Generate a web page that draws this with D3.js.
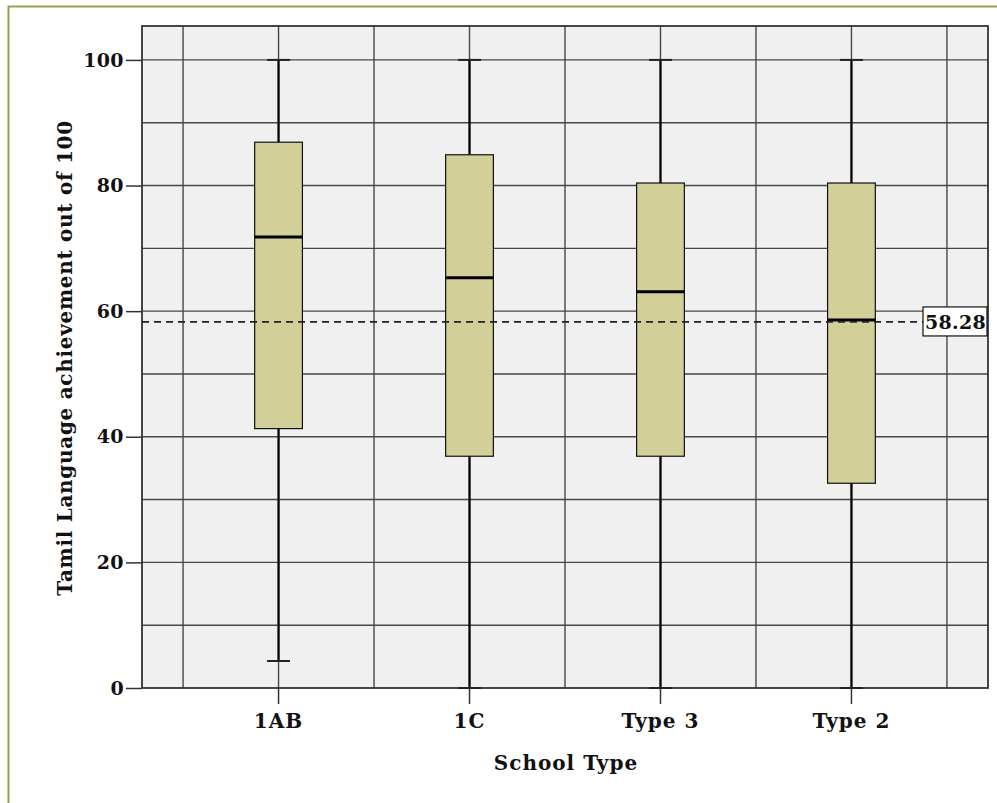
<!DOCTYPE html>
<html>
<head>
<meta charset="utf-8">
<script src="https://cdn.jsdelivr.net/npm/d3@7"></script>
<style>
  body { margin: 0; background: #fff; }
  svg { display: block; }
  text { font-family: 'DejaVu Serif', serif; font-weight: bold; fill: #111; }
</style>
</head>
<body>
<svg id="chart"></svg>
<script>
'use strict'

// data
const categories = ['1AB', '1C', 'Type 3', 'Type 2']
const mins = [4.3, 0, 0, 0]
const q1s = [41.3, 36.9, 36.9, 32.6]
const medians = [71.8, 65.3, 63.1, 58.6]
const q3s = [86.9, 84.9, 80.4, 80.4]
const maxs = [100, 100, 100, 100]
const yTicks = [0, 20, 40, 60, 80, 100]
const meanValue = 58.28

const width = 997
const height = 803
const margin = { top: 26, right: 9, bottom: 115, left: 142 }

const svg = d3.select('#chart')
  .attr('width', width)
  .attr('height', height)

// green frame (only left and top are visible)
svg.append('path')
  .attr('d', `M8.5,${height} V6.5 H${width}`)
  .attr('fill', 'none')
  .attr('stroke', '#8aa64a')
  .attr('stroke-width', 2)

const x = d3.scaleBand()
  .domain(categories)
  .range([margin.left, width - margin.right])
  .paddingInner(0)
  .paddingOuter(0.215)

const y = d3.scaleLinear()
  .domain([0, 105.4])
  .range([height - margin.bottom, margin.top])

const x0 = margin.left
const x1 = width - margin.right
const y0 = height - margin.bottom
const y1 = margin.top

// plot background
svg.append('rect')
  .attr('x', x0).attr('y', y1)
  .attr('width', x1 - x0).attr('height', y0 - y1)
  .attr('fill', '#f0f0f0')

const grid = svg.append('g')
  .attr('stroke', '#474747')
  .attr('stroke-width', 1.4)

// horizontal grid every 10
grid.selectAll('line.h')
  .data(d3.range(10, 101, 10))
  .enter().append('line')
  .attr('class', 'h')
  .attr('x1', x0).attr('x2', x1)
  .attr('y1', d => y(d)).attr('y2', d => y(d))

// vertical grid at band edges and centres
const vLines = []
categories.forEach(c => {
  vLines.push(x(c))
  vLines.push(x(c) + x.bandwidth() / 2)
})
vLines.push(x(categories[categories.length - 1]) + x.bandwidth())
grid.selectAll('line.v')
  .data(vLines)
  .enter().append('line')
  .attr('class', 'v')
  .attr('x1', d => d).attr('x2', d => d)
  .attr('y1', y1).attr('y2', y0)

// plot frame
svg.append('rect')
  .attr('x', x0).attr('y', y1)
  .attr('width', x1 - x0).attr('height', y0 - y1)
  .attr('fill', 'none')
  .attr('stroke', '#333')
  .attr('stroke-width', 1.8)

// y axis
const yAxis = svg.append('g')
  .attr('transform', `translate(${x0},0)`)
  .call(d3.axisLeft(y).tickValues(yTicks).tickSize(16).tickPadding(2))
yAxis.select('.domain').remove()
yAxis.selectAll('line').attr('stroke', '#333').attr('stroke-width', 1.5)
yAxis.selectAll('text')
  .attr('font-size', 19)
  .attr('letter-spacing', 0.4)
  .attr('font-family', 'DejaVu Serif')
  .attr('font-weight', 'bold')
  .attr('fill', '#111')

// x axis
const xAxis = svg.append('g')
  .attr('transform', `translate(0,${y0})`)
  .call(d3.axisBottom(x).tickSize(16).tickPadding(10))
xAxis.select('.domain').remove()
xAxis.selectAll('line').attr('stroke', '#333').attr('stroke-width', 1.5)
xAxis.selectAll('text')
  .attr('font-size', 20)
  .attr('letter-spacing', 1)
  .attr('font-family', 'DejaVu Serif')
  .attr('font-weight', 'bold')
  .attr('fill', '#111')

// boxes
const boxW = x.bandwidth() * 0.25
const capW = x.bandwidth() * 0.06
const boxes = svg.append('g')
  .selectAll('g')
  .data(categories.map((c, i) => ({ c, min: mins[i], q1: q1s[i], med: medians[i], q3: q3s[i], max: maxs[i] })))
  .enter().append('g')
  .attr('transform', d => `translate(${x(d.c) + x.bandwidth() / 2},0)`)

boxes.append('line')
  .attr('x1', 0).attr('x2', 0)
  .attr('y1', d => y(d.max)).attr('y2', d => y(d.q3))
  .attr('stroke', '#000').attr('stroke-width', 2.2)
boxes.append('line')
  .attr('x1', 0).attr('x2', 0)
  .attr('y1', d => y(d.q1)).attr('y2', d => y(d.min))
  .attr('stroke', '#000').attr('stroke-width', 2.2)
boxes.append('line')
  .attr('x1', -capW).attr('x2', capW)
  .attr('y1', d => y(d.max)).attr('y2', d => y(d.max))
  .attr('stroke', '#222').attr('stroke-width', 2)
boxes.append('line')
  .attr('x1', -capW).attr('x2', capW)
  .attr('y1', d => y(d.min)).attr('y2', d => y(d.min))
  .attr('stroke', '#222').attr('stroke-width', 2)
boxes.append('rect')
  .attr('x', -boxW / 2).attr('width', boxW)
  .attr('y', d => y(d.q3)).attr('height', d => y(d.q1) - y(d.q3))
  .attr('fill', '#d3cf98')
  .attr('stroke', '#111').attr('stroke-width', 1.2)
boxes.append('line')
  .attr('x1', -boxW / 2).attr('x2', boxW / 2)
  .attr('y1', d => y(d.med)).attr('y2', d => y(d.med))
  .attr('stroke', '#000').attr('stroke-width', 3)

// mean reference line
const labelX = 923
svg.append('line')
  .attr('x1', x0).attr('x2', labelX)
  .attr('y1', y(meanValue)).attr('y2', y(meanValue))
  .attr('stroke', '#222')
  .attr('stroke-width', 1.8)
  .attr('stroke-dasharray', '7,5')

svg.append('rect')
  .attr('x', labelX).attr('y', y(meanValue) - 15)
  .attr('width', x1 - labelX - 1).attr('height', 29)
  .attr('fill', '#fff')
  .attr('stroke', '#111').attr('stroke-width', 1.2)
svg.append('text')
  .attr('x', (labelX + x1) / 2)
  .attr('y', y(meanValue) + 7)
  .attr('text-anchor', 'middle')
  .attr('font-size', 19)
  .attr('letter-spacing', 0.3)
  .text(meanValue.toFixed(2))

// axis titles
svg.append('text')
  .attr('transform', `translate(72,358) rotate(-90)`)
  .attr('text-anchor', 'middle')
  .attr('font-size', 20)
  .attr('letter-spacing', 0.7)
  .text('Tamil Language achievement out of 100')

svg.append('text')
  .attr('x', (x0 + x1) / 2 + 1)
  .attr('y', 770)
  .attr('text-anchor', 'middle')
  .attr('font-size', 20)
  .attr('letter-spacing', 1)
  .text('School Type')
</script>
</body>
</html>
